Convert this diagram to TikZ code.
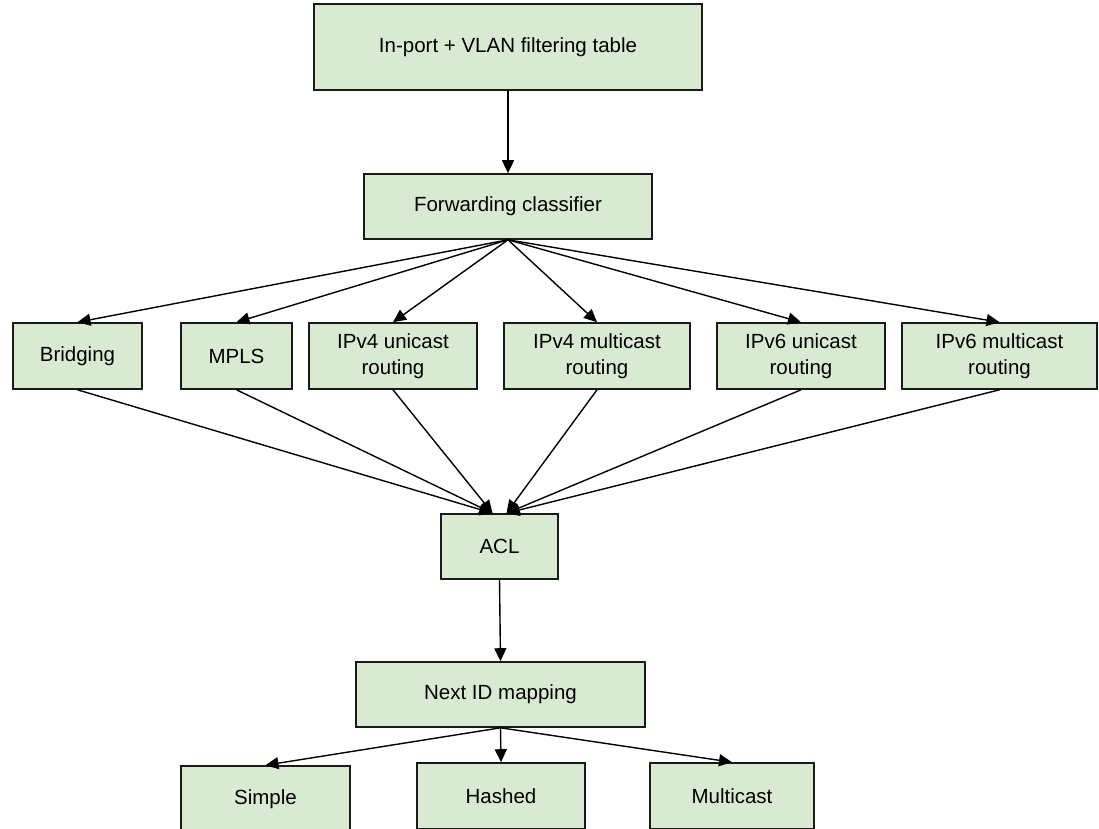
\documentclass[tikz,border=0pt]{standalone}
\usepackage{fontspec}
\setmainfont{Liberation Sans}
\usetikzlibrary{arrows.meta,calc}
\definecolor{boxfill}{HTML}{D9EAD3}
\definecolor{boxline}{HTML}{1A1A1A}
\begin{document}
\begin{tikzpicture}[x=1pt,y=-1pt,
  box/.style={draw=boxline, fill=boxfill, line width=1.6pt, rectangle,
    inner sep=0pt, align=center, font=\fontsize{20.5}{26}\selectfont,
    minimum height=#1},
  box/.default=66,
  flow/.style={draw=black, line width=1.4pt, -{Triangle[length=13pt,width=12pt]}}]
\useasboundingbox (0,0) rectangle (1099,828);

% pipeline stages
\node[box=86, minimum width=388] (inport) at (508,47) {In-port + VLAN filtering table};
\node[box=65, minimum width=288] (fwd) at (508,206.5) {Forwarding classifier};

\node[box, minimum width=129] (bridge) at (77.5,356) {Bridging};
\node[box, minimum width=111] (mpls) at (236.5,356) {MPLS};
\node[box, minimum width=168] (v4u) at (393,356) {IPv4 unicast\\routing};
\node[box, minimum width=186] (v4m) at (597,356) {IPv4 multicast\\routing};
\node[box, minimum width=168] (v6u) at (801,356) {IPv6 unicast\\routing};
\node[box, minimum width=195] (v6m) at (999.5,356) {IPv6 multicast\\routing};

\node[box=65, minimum width=117] (acl) at (499.5,546.5) {ACL};
\node[box=65, minimum width=289] (nextid) at (500.5,694.5) {Next ID mapping};

\node[box, minimum width=169] (simple) at (265.5,799) {Simple};
\node[box, minimum width=168] (hashed) at (501,796) {Hashed};
\node[box, minimum width=164] (mcast) at (732,796) {Multicast};

% entry points on the ACL box
\coordinate (aclL) at ($(acl.north)+(-7,0)$);
\coordinate (aclR) at ($(acl.north)+(7,0)$);

% connectors
\draw[flow] (inport.south) -- (fwd.north);
\foreach \t in {bridge,mpls,v4u,v4m,v6u,v6m}
  \draw[flow] (fwd.south) -- (\t.north);
\foreach \s in {bridge,mpls,v4u}
  \draw[flow] (\s.south) -- (aclL);
\foreach \s in {v4m,v6u,v6m}
  \draw[flow] (\s.south) -- (aclR);
\draw[flow] (acl.south) -- (nextid.north);
\foreach \t in {simple,hashed,mcast}
  \draw[flow] (nextid.south) -- (\t.north);
\end{tikzpicture}
\end{document}
